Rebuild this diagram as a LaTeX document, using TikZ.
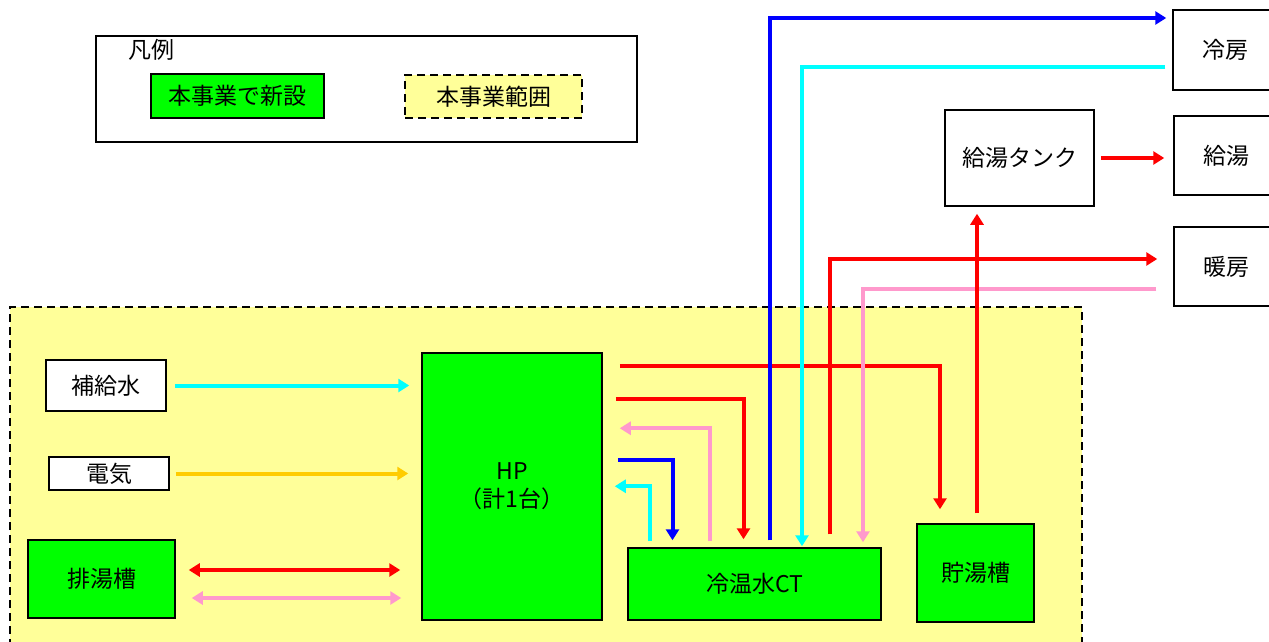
\documentclass[tikz,border=0pt]{standalone}
\usepackage{fontspec}
\setmainfont{Noto Sans CJK JP}
\usetikzlibrary{arrows.meta}
\definecolor{newgreen}{RGB}{0,255,0}
\definecolor{scopeyellow}{RGB}{255,255,153}
\definecolor{cwater}{RGB}{0,255,255}
\definecolor{bwater}{RGB}{0,0,255}
\definecolor{rwater}{RGB}{255,0,0}
\definecolor{pwater}{RGB}{255,153,204}
\definecolor{power}{RGB}{255,204,0}

\begin{document}
\begin{tikzpicture}[x=1pt, y=-1pt, >={Triangle[length=11pt,width=13pt]},
    every node/.style={font=\fontsize{23}{28}\selectfont, inner sep=0pt},
    box/.style={draw, line width=1.5pt, fill=white},
    newbox/.style={box, fill=newgreen},
    scopeline/.style={line width=1.5pt, dash pattern=on 8pt off 5pt},
    flow/.style={line width=4pt, ->},
    hot/.style={flow, rwater},
    ret/.style={flow, pwater},
    cold/.style={flow, bwater},
    cool/.style={flow, cwater}]
    \useasboundingbox (0,0) rectangle (1269,641);

    % 凡例
    \node[draw, line width=2.5pt, minimum width=541, minimum height=106] (legend) at (366.5,89) {};
    \node (legendtitle) at (151.5,50) {凡例};
    \node[newbox, minimum width=173, minimum height=44] (lgnew) at (237.5,96) {本事業で新設};
    \node[box, scopeline, fill=scopeyellow, minimum width=177, minimum height=43] (lgscope) at (493.5,96.5) {本事業範囲};

    % 本事業範囲
    \fill[scopeyellow] (10,307) rectangle (1082,660);
    \draw[scopeline] (10,660) -- (10,307) -- (1082,307) -- (1082,660);

    % 機器
    \node[box, minimum width=120, minimum height=51] (mw) at (106,385.5) {補給水};
    \node[box, minimum width=120, minimum height=33] (el) at (109,473.5) {電気};
    \node[newbox, minimum width=147, minimum height=78] (drain) at (101.5,579) {排湯槽};
    \node[newbox, align=center, minimum width=180, minimum height=267] (hp) at (512,486.5) {HP\\（計1台）};
    \node[newbox, minimum width=253, minimum height=72] (ct) at (754.5,584) {冷温水CT};
    \node[newbox, minimum width=117, minimum height=98] (st) at (975.5,573) {貯湯槽};
    \node[box, minimum width=149, minimum height=96] (tank) at (1019.5,158) {給湯タンク};
    \node[box, minimum width=104, minimum height=80] (cooling) at (1225,50) {冷房};
    \node[box, minimum width=104, minimum height=79] (supply) at (1226,155.5) {給湯};
    \node[box, minimum width=104, minimum height=79] (heating) at (1226,266.5) {暖房};

    % HPへの入力
    \draw[cool, shorten <=8, shorten >=12] (mw.east) -- (mw.east -| hp.west);
    \draw[flow, power, shorten <=6, shorten >=13] (el.east) -- (el.east -| hp.west);
    \draw[hot, <->, shorten <=13, shorten >=21] ([yshift=9]drain.east) -- ([yshift=9]drain.east -| hp.west);
    \draw[ret, <->, shorten <=16, shorten >=20] ([yshift=-19]drain.east) -- ([yshift=-19]drain.east -| hp.west);

    % HP と 冷温水CT・貯湯槽
    \draw[hot, shorten <=17, shorten >=14] ([yshift=-14]hp.north east) -| ([xshift=-35.5]st.north);
    \draw[hot, shorten <=13, shorten >=8] ([yshift=-47]hp.north east) -| ([xshift=-11]ct.north);
    \draw[ret, shorten <=6, shorten >=17] ([xshift=-44.5]ct.north) |- ([yshift=-76]hp.north east);
    \draw[cold, shorten <=15, shorten >=7] ([yshift=-108]hp.north east) -| ([xshift=-82]ct.north);
    \draw[cool, shorten <=6, shorten >=12] ([xshift=-104.5]ct.north) |- ([yshift=-134]hp.north east);

    % 冷温水CT と 冷房・暖房
    \draw[cold, shorten <=7, shorten >=6] ([xshift=15.5]ct.north) |- ([yshift=32]cooling.west);
    \draw[cool, shorten <=7, shorten >=1] ([yshift=-17]cooling.west) -| ([xshift=47.5]ct.north);
    \draw[hot, shorten <=13, shorten >=16] ([xshift=75.5]ct.north) |- ([yshift=7.5]heating.west);
    \draw[ret, shorten <=17, shorten >=5] ([yshift=-22.5]heating.west) -| ([xshift=108.5]ct.north);

    % 給湯
    \draw[hot, shorten <=10, shorten >=7] ([xshift=1.5]st.north) -- ([xshift=-42.5]tank.south);
    \draw[hot, shorten <=6, shorten >=9] (tank.east) -- (tank.east -| supply.west);
\end{tikzpicture}
\end{document}
